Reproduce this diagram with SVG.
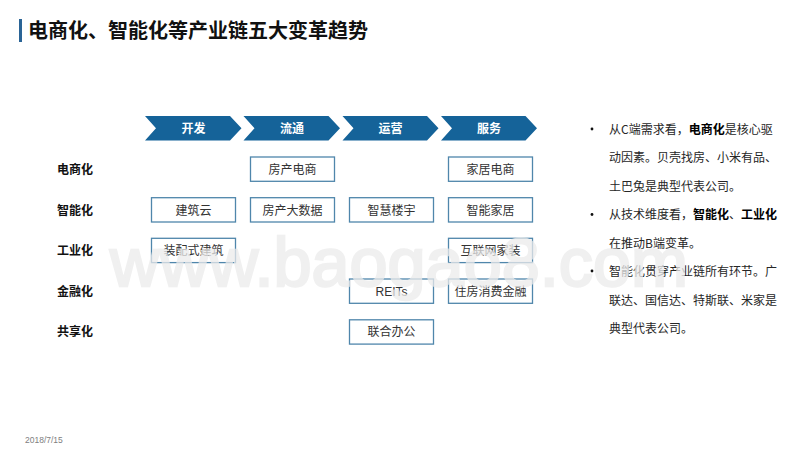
<svg xmlns="http://www.w3.org/2000/svg" width="800" height="450" viewBox="0 0 800 450">
<defs>
<style>
text{font-family:"Liberation Sans","Noto Sans CJK SC",sans-serif}
.cjk{font-family:"Noto Sans CJK SC","Liberation Sans",sans-serif}
.chev{fill:#156399}
.chevt{font-size:12px;font-weight:700;fill:#fff;text-anchor:middle}
.box{fill:#fff;stroke:#4f86ab;stroke-width:1.3}
.boxt{font-size:12px;fill:#333;text-anchor:middle}
.rowt{font-size:12px;font-weight:700;fill:#111;text-anchor:middle}
.body{font-size:12px;fill:#262626}
.body tspan.b{font-weight:700;fill:#000}
.dot{fill:#111}
.wm{font-size:68px;fill:#ebebeb;stroke:#ebebeb;stroke-width:2.4;opacity:.75}
</style>
</defs>
<rect width="800" height="450" fill="#fff"/>
<rect x="19" y="19" width="3" height="23" fill="#2a6496"/>
<text class="cjk" x="28" y="38" font-size="20" font-weight="700" fill="#111">电商化、智能化等产业链五大变革趋势</text>

<g id="connectors"></g>

<g id="stage-kaifa"><polygon class="chev" points="145,116 230,116 241.5,128.2 230,140.5 145,140.5 156,128.2"/><text class="chevt cjk" x="193.500" y="133">开发</text></g>
<g id="stage-liutong"><polygon class="chev" points="243.500,116 328.500,116 340,128.200 328.500,140.500 243.500,140.500 254.500,128.200"/><text class="chevt cjk" x="292" y="133">流通</text></g>
<g id="stage-yunying"><polygon class="chev" points="342.500,116 427,116 438.500,128.200 427,140.500 342.500,140.500 353.500,128.200"/><text class="chevt cjk" x="390.500" y="133">运营</text></g>
<g id="stage-fuwu"><polygon class="chev" points="441,116 525.500,116 537,128.200 525.500,140.500 441,140.500 452,128.200"/><text class="chevt cjk" x="489" y="133">服务</text></g>

<g id="row-dianshang"><text class="rowt cjk" x="75" y="174">电商化</text></g>
<g id="row-zhineng"><text class="rowt cjk" x="75" y="215">智能化</text></g>
<g id="row-gongye"><text class="rowt cjk" x="75" y="255">工业化</text></g>
<g id="row-jinrong"><text class="rowt cjk" x="75" y="296">金融化</text></g>
<g id="row-gongxiang"><text class="rowt cjk" x="75" y="336">共享化</text></g>

<g id="n-fangchan-ds"><rect class="box" x="250.500" y="157" width="84" height="24.300"/><text class="boxt cjk" x="292.500" y="174">房产电商</text></g>
<g id="n-jiaju-ds"><rect class="box" x="448.500" y="157" width="84" height="24.300"/><text class="boxt cjk" x="490.500" y="174">家居电商</text></g>
<g id="n-jianzhuyun"><rect class="box" x="151.500" y="197.700" width="84" height="24.300"/><text class="boxt cjk" x="193.500" y="215">建筑云</text></g>
<g id="n-dashuju"><rect class="box" x="250.500" y="197.700" width="84" height="24.300"/><text class="boxt cjk" x="292.500" y="215">房产大数据</text></g>
<g id="n-louyu"><rect class="box" x="349.500" y="197.700" width="84" height="24.300"/><text class="boxt cjk" x="391.500" y="215">智慧楼宇</text></g>
<g id="n-jiaju-zn"><rect class="box" x="448.500" y="197.700" width="84" height="24.300"/><text class="boxt cjk" x="490.500" y="215">智能家居</text></g>
<g id="n-zhuangpei"><rect class="box" x="151.500" y="238.300" width="84" height="24.300"/><text class="boxt cjk" x="193.500" y="255">装配式建筑</text></g>
<g id="n-hulianwang"><rect class="box" x="448.500" y="238.300" width="84" height="24.300"/><text class="boxt cjk" x="490.500" y="255">互联网家装</text></g>
<g id="n-reits"><rect class="box" x="349.500" y="279" width="84" height="24.300"/><text class="boxt" x="391.500" y="296">REITs</text></g>
<g id="n-xiaofei"><rect class="box" x="448.500" y="279" width="84" height="24.300"/><text class="boxt cjk" x="490.500" y="296">住房消费金融</text></g>
<g id="n-bangong"><rect class="box" x="349.500" y="319.800" width="84" height="24.300"/><text class="boxt cjk" x="391.500" y="336">联合办公</text></g>

<g id="notes">
<circle class="dot" cx="592" cy="129" r="1.400"/>
<text class="body cjk" x="609" y="133.500">从C端需求看，<tspan class="b">电商化</tspan>是核心驱</text>
<text class="body cjk" x="609" y="162">动因素。贝壳找房、小米有品、</text>
<text class="body cjk" x="609" y="190.500">土巴兔是典型代表公司。</text>
<circle class="dot" cx="592" cy="214.500" r="1.400"/>
<text class="body cjk" x="609" y="219">从技术维度看，<tspan class="b">智能化</tspan>、<tspan class="b">工业化</tspan></text>
<text class="body cjk" x="609" y="247.500">在推动B端变革。</text>
<circle class="dot" cx="592" cy="271" r="1.400"/>
<text class="body cjk" x="609" y="276">智能化贯穿产业链所有环节。广</text>
<text class="body cjk" x="609" y="304.500">联达、国信达、特斯联、米家是</text>
<text class="body cjk" x="609" y="333">典型代表公司。</text>
</g>

<text x="25" y="443" font-size="8.500" fill="#808080">2018/7/15</text>
<text class="wm" x="110" y="286" textLength="578" lengthAdjust="spacingAndGlyphs">www.baogao8.com</text>
</svg>
